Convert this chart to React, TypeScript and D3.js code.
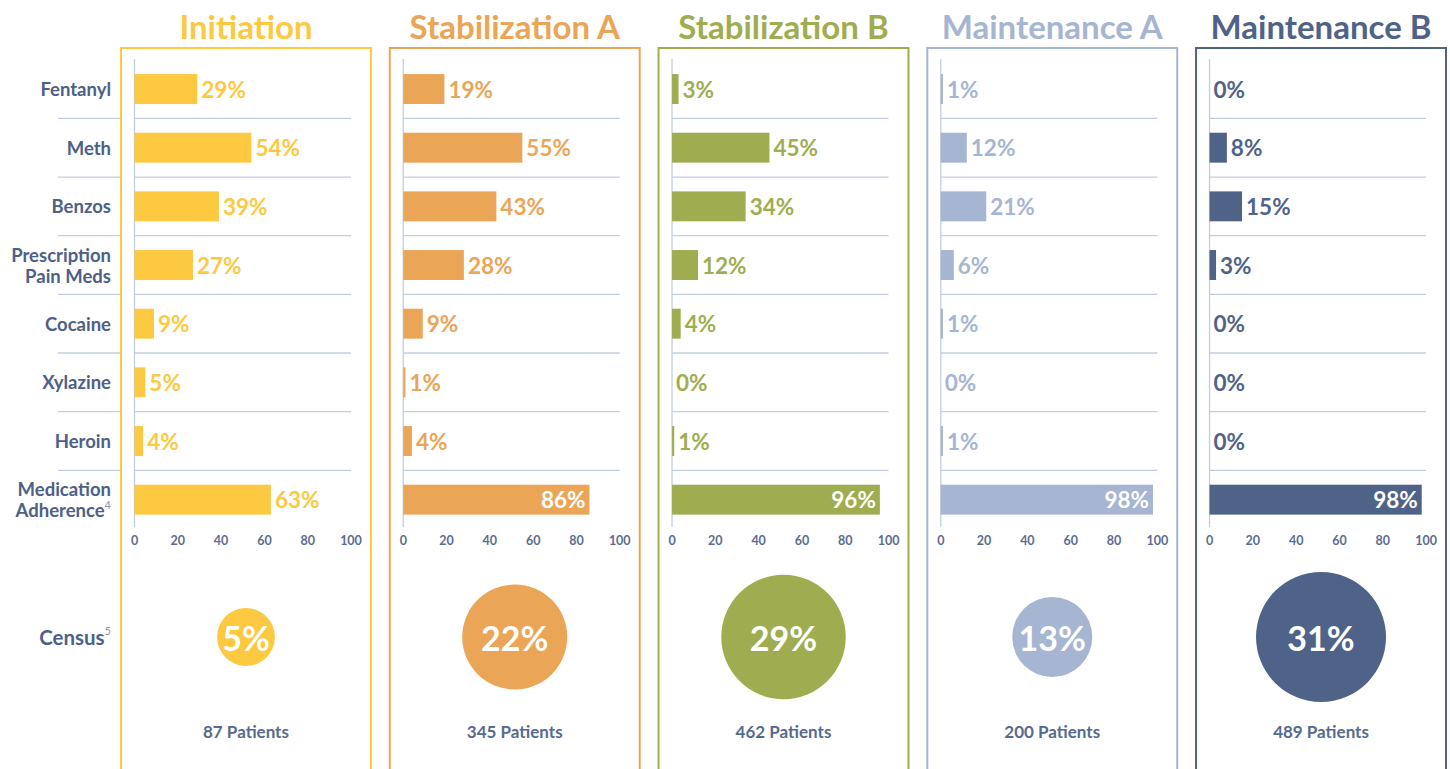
import React from "react";
import * as d3 from "d3";

// data
const phases = ["Initiation", "Stabilization A", "Stabilization B", "Maintenance A", "Maintenance B"];
const categories = ["Fentanyl", "Meth", "Benzos", "Prescription Pain Meds", "Cocaine", "Xylazine", "Heroin", "Medication Adherence"];
const categoryLines = [["Fentanyl"], ["Meth"], ["Benzos"], ["Prescription", "Pain Meds"], ["Cocaine"], ["Xylazine"], ["Heroin"], ["Medication", "Adherence"]];
const categoryNotes = ["", "", "", "", "", "", "", "4"];

const initiation = [29, 54, 39, 27, 9, 5, 4, 63];
const stabilizationA = [19, 55, 43, 28, 9, 1, 4, 86];
const stabilizationB = [3, 45, 34, 12, 4, 0, 1, 96];
const maintenanceA = [1, 12, 21, 6, 1, 0, 1, 98];
const maintenanceB = [0, 8, 15, 3, 0, 0, 0, 98];

const census = [5, 22, 29, 13, 31];
const patients = [87, 345, 462, 200, 489];
const xTicks = [0, 20, 40, 60, 80, 100];

const colors = ["#fcc940", "#eba557", "#9fad50", "#a6b5d1", "#4f6388"];
const textColor = "#4d6087";
const gridColor = "#c3cde1";
const FONT = "Lato, 'Open Sans', sans-serif";

const W = 1450;
const H = 769;

export default function App() {
  const series = [initiation, stabilizationA, stabilizationB, maintenanceA, maintenanceB];

  const panelX = d3.scaleBand<string>().domain(phases).range([121, 1446]).paddingInner(0.07);
  const y = d3.scaleBand<string>().domain(categories).range([59.7, 529]);
  const barH = y.bandwidth() * 0.51;
  const rScale = d3.scaleLinear().domain([0, 31]).range([22, 65]);

  // separators between rows
  const seps = categories.slice(1).map((c) => y(c) as number);

  return (
    <svg width={W} height={H} style={{ position: "absolute", left: 0, top: 0, background: "#fff" }} fontFamily={FONT}>
      {/* row labels */}
      {categories.map((c, i) => {
        const cy = (y(c) as number) + y.bandwidth() / 2;
        const lines = categoryLines[i];
        const lh = 21;
        return (
          <text key={c} x={111} y={cy - ((lines.length - 1) * lh) / 2} textAnchor="end" fontSize={18.5} fontWeight={700} fill={textColor} dominantBaseline="central">
            {lines.map((l, j) => (
              <tspan key={j} x={111} dy={j === 0 ? 0 : lh}>
                {l}
                {j === lines.length - 1 && categoryNotes[i] ? (
                  <tspan fontSize={11} fontWeight={400} fill="#8c97ae" dy={-6}>{categoryNotes[i]}</tspan>
                ) : null}
              </tspan>
            ))}
          </text>
        );
      })}
      {seps.map((s, i) => (
        <line key={i} x1={58} x2={120} y1={s} y2={s} stroke={gridColor} strokeWidth={1.3} />
      ))}
      <text x={111} y={637} textAnchor="end" fontSize={20.5} fontWeight={700} fill={textColor} dominantBaseline="central">
        Census
        <tspan fontSize={11} fontWeight={400} fill="#8c97ae" dy={-7}>5</tspan>
      </text>

      {phases.map((p, k) => {
        const left = panelX(p) as number;
        const pw = panelX.bandwidth();
        const cx = left + pw / 2;
        const x = d3.scaleLinear().domain([0, 100]).range([left + 13.5, left + 230]);
        const col = colors[k];
        return (
          <g key={p}>
            <text x={cx} y={26} textAnchor="middle" dominantBaseline="central" fontSize={33} fontWeight={700} fill={col}>
              {p}
            </text>
            <rect x={left} y={48} width={pw} height={760} fill="none" stroke={col} strokeWidth={2} />
            {/* gridlines */}
            {seps.map((s, i) => (
              <line key={i} x1={x(0)} x2={x(100)} y1={s} y2={s} stroke={gridColor} strokeWidth={1.3} />
            ))}
            <line x1={x(0)} x2={x(0)} y1={59} y2={527} stroke={gridColor} strokeWidth={1.3} />
            {/* bars */}
            {series[k].map((v, i) => {
              const c = categories[i];
              const by = (y(c) as number) + (y.bandwidth() - barH) / 2;
              const inside = v > 75;
              return (
                <g key={c}>
                  <rect x={x(0)} y={by} width={x(v) - x(0)} height={barH} fill={col} />
                  <text
                    x={inside ? x(v) - 4 : x(v) + 4}
                    y={by + barH / 2}
                    textAnchor={inside ? "end" : "start"}
                    dominantBaseline="central"
                    fontSize={22.5}
                    fontWeight={700}
                    fill={inside ? "#fff" : col}
                  >
                    {v}%
                  </text>
                </g>
              );
            })}
            {/* axis ticks */}
            {xTicks.map((t) => (
              <text key={t} x={x(t)} y={540} textAnchor="middle" dominantBaseline="central" fontSize={12.5} fontWeight={700} fill="#5a6c91">
                {t}
              </text>
            ))}
            {/* census bubble */}
            <circle cx={cx} cy={637} r={rScale(census[k])} fill={col} />
            <text x={cx} y={637} textAnchor="middle" dominantBaseline="central" fontSize={34} fontWeight={700} fill="#fff">
              {census[k]}%
            </text>
            <text x={cx} y={731} textAnchor="middle" dominantBaseline="central" fontSize={17} fontWeight={700} fill="#566a8f">
              {patients[k]} Patients
            </text>
          </g>
        );
      })}
    </svg>
  );
}
